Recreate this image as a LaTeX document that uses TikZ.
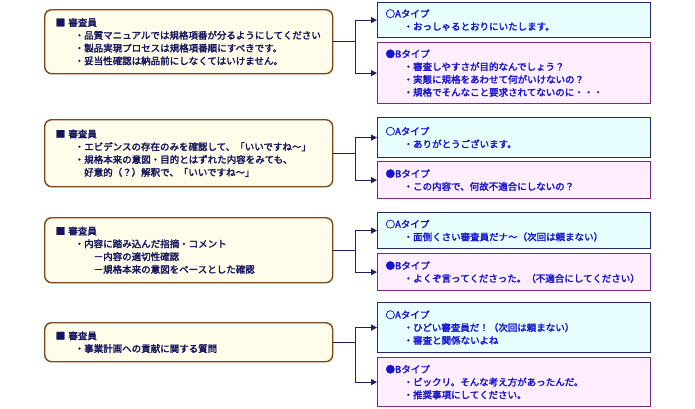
\documentclass[tikz,border=0pt]{standalone}
\usepackage{fontspec}
\setmainfont{Noto Sans CJK JP}[AutoFakeBold=2.2]
\usetikzlibrary{arrows.meta}
\definecolor{lfill}{HTML}{FFFDEA}
\definecolor{ldraw}{HTML}{7A4A1E}
\definecolor{ltext}{HTML}{14145E}
\definecolor{afill}{HTML}{E8FFFF}
\definecolor{adraw}{HTML}{26266E}
\definecolor{bfill}{HTML}{FFEEFF}
\definecolor{bdraw}{HTML}{7A2A78}
\definecolor{rtext}{HTML}{1414D2}
\definecolor{conn}{HTML}{1E1E6A}
\tikzset{
  x=1pt, y=-1pt,
  txt/.style={font=\fontsize{9.5}{12.8}\selectfont\bfseries, align=left, anchor=north west},
  lbox/.style={txt, draw=ldraw, fill=lfill, line width=1.4pt, rounded corners=7pt,
    text=ltext, inner xsep=11pt, inner ysep=0pt, text width=266pt, minimum width=288pt},
  abox/.style={txt, draw=adraw, fill=afill, line width=1.2pt,
    text=rtext, inner xsep=8pt, inner ysep=0pt, text width=257pt, minimum width=273pt},
  bbox/.style={abox, draw=bdraw, fill=bfill},
  link/.style={draw=conn, line width=1.2pt, -{Triangle[length=6pt,width=6pt]}},
}
\newcommand{\bi}{\hspace*{19pt}}
\newcommand{\bj}{\hspace*{38pt}}
\newcommand{\ri}{\hspace*{18pt}}
\begin{document}
\begin{tikzpicture}
\useasboundingbox (0,0) rectangle (695,408);
% group 1
\node[lbox, minimum height=64pt] (L1) at (44,9) {■ 審査員\\
\bi・品質マニュアルでは規格項番が分るようにしてください\\
\bi・製品実現プロセスは規格項番順にすべきです。\\
\bi・妥当性確認は納品前にしなくてはいけません。};
\node[abox, minimum height=35pt] (A1) at (377,2) {○Aタイプ\\
\ri・おっしゃるとおりにいたします。};
\node[bbox, minimum height=61pt] (B1) at (377,42) {●Bタイプ\\
\ri・審査しやすさが目的なんでしょう？\\
\ri・実態に規格をあわせて何がいけないの？\\
\ri・規格でそんなこと要求されてないのに・・・};
% group 2
\node[lbox, minimum height=67pt] (L2) at (44,119) {■ 審査員\\
\bi・エビデンスの存在のみを確認して、「いいですね～」\\
\bi・規格本来の意図・目的とはずれた内容をみても、\\
\bi\phantom{・}好意的（？）解釈で、「いいですね～」};
\node[abox, minimum height=40pt] (A2) at (377,117) {○Aタイプ\\
\ri・ありがとうございます。};
\node[bbox, minimum height=37pt] (B2) at (377,161) {●Bタイプ\\
\ri・この内容で、何故不適合にしないの？};
% group 3
\node[lbox, minimum height=65pt] (L3) at (44,217) {■ 審査員\\
\bi・内容に踏み込んだ指摘・コメント\\
\bj－内容の適切性確認\\
\bj－規格本来の意図をベースとした確認};
\node[abox, minimum height=36pt] (A3) at (377,212) {○Aタイプ\\
\ri・面倒くさい審査員だナ～（次回は頼まない）};
\node[bbox, minimum height=37pt] (B3) at (377,253) {●Bタイプ\\
\ri・よくぞ言ってくださった。（不適合にしてください）};
% group 4
\node[lbox, minimum height=39pt] (L4) at (44,322) {■ 審査員\\
\bi・事業計画への貢献に関する質問};
\node[abox, minimum height=50pt] (A4) at (377,302) {○Aタイプ\\
\ri・ひどい審査員だ！（次回は頼まない）\\
\ri・審査と関係ないよね};
\node[bbox, minimum height=49pt] (B4) at (377,357) {●Bタイプ\\
\ri・ビックリ。そんな考え方があったんだ。\\
\ri・推奨事項にしてください。};
% connectors
\foreach \g in {1,2,3,4}{
  \coordinate (J\g) at ([xshift=22pt]L\g.east);
  \draw[link] (L\g.east) -- (J\g) |- (A\g.west);
  \draw[link] (J\g) |- (B\g.west);
}
\end{tikzpicture}
\end{document}
